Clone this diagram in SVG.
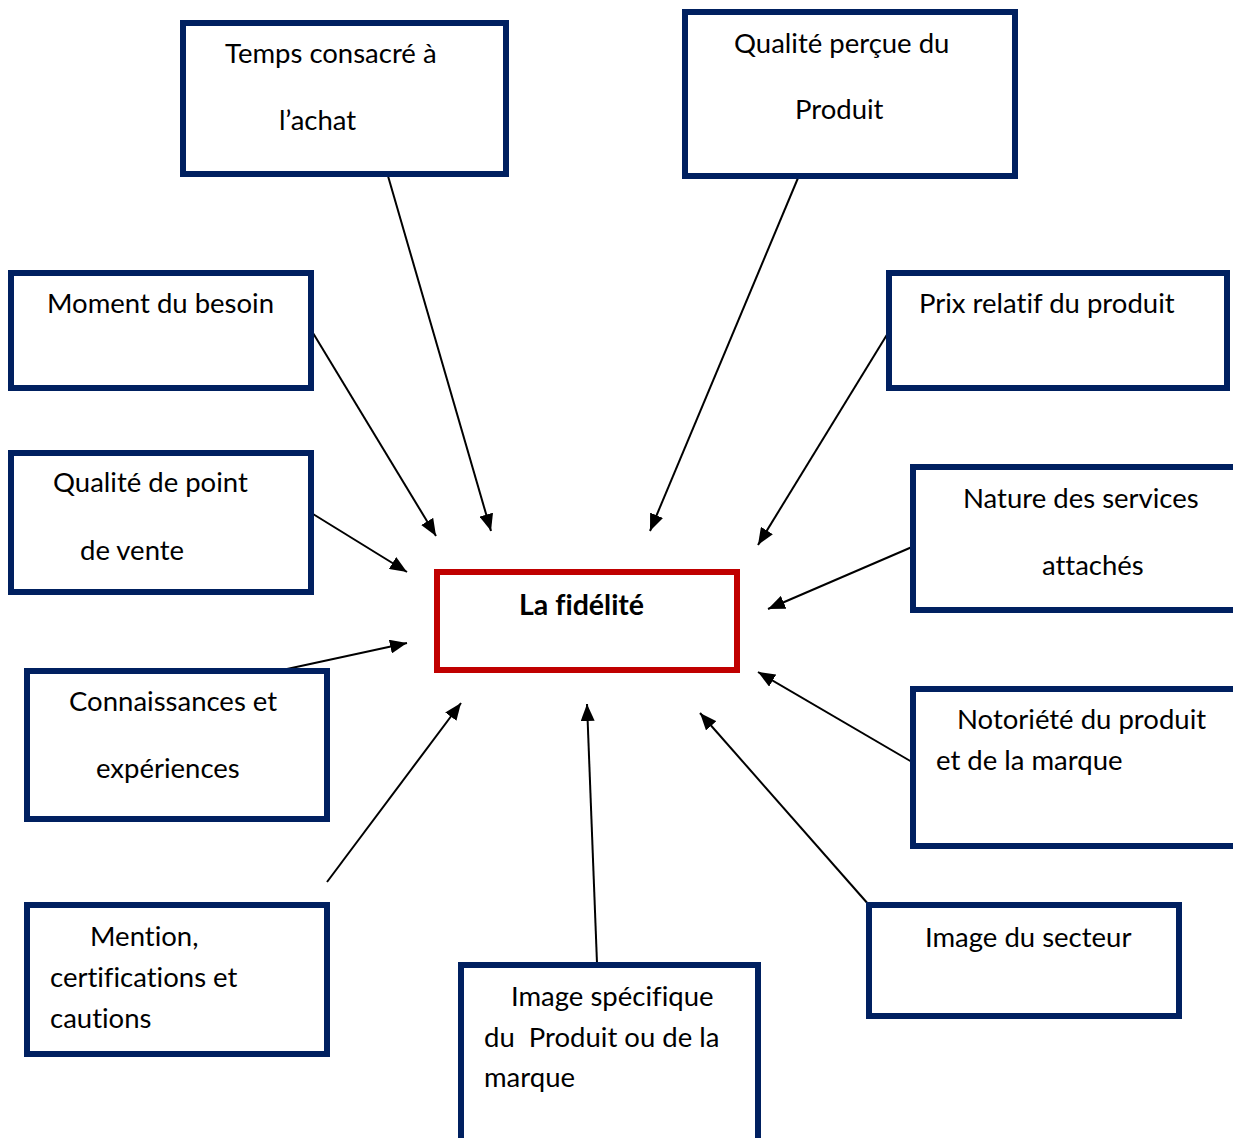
<svg xmlns="http://www.w3.org/2000/svg" width="1233" height="1138" viewBox="0 0 1233 1138">
  <style>
    .box { fill: #ffffff; stroke: #002060; stroke-width: 6; }
    .core { fill: #ffffff; stroke: #c00000; stroke-width: 6; }
    .lbl { font-family: Lato, "Liberation Sans", sans-serif; font-size: 27.5px; fill: #000000; font-variant-ligatures: none; font-feature-settings: "liga" 0; }
    .bold { font-weight: bold; font-size: 28.5px; }
    .link { stroke: #000000; stroke-width: 2; fill: none; marker-end: url(#head); }
  </style>
  <defs>
    <marker id="head" markerUnits="userSpaceOnUse" markerWidth="17" markerHeight="14" refX="17" refY="7" orient="auto">
      <path d="M0,0 L17,7 L0,14 z" fill="#000000"/>
    </marker>
  </defs>
  <rect width="1233" height="1138" fill="#ffffff"/>

  <g id="connectors">
    <line class="link" x1="388" y1="176" x2="491" y2="531"/>
    <line class="link" x1="798" y1="178" x2="650" y2="531"/>
    <line class="link" x1="313" y1="333" x2="436" y2="536"/>
    <line class="link" x1="888" y1="333" x2="758" y2="545"/>
    <line class="link" x1="313" y1="514" x2="407" y2="572"/>
    <line class="link" x1="912" y1="547" x2="768" y2="609"/>
    <line class="link" x1="287" y1="669" x2="407" y2="643"/>
    <line class="link" x1="327" y1="882" x2="461" y2="703"/>
    <line class="link" x1="597" y1="963" x2="587" y2="704"/>
    <line class="link" x1="912" y1="762" x2="758" y2="672"/>
    <line class="link" x1="869" y1="905" x2="700" y2="713"/>
  </g>

  <g id="fidelite">
    <rect class="core" x="437" y="572" width="300" height="98"/>
    <text class="lbl bold" x="519" y="615">La fidélité</text>
  </g>

  <g id="temps-achat">
    <rect class="box" x="183" y="23" width="323" height="151"/>
    <text class="lbl" x="225" y="63">Temps consacré à</text>
    <text class="lbl" x="279" y="130">l’achat</text>
  </g>

  <g id="qualite-percue">
    <rect class="box" x="685" y="12" width="330" height="164"/>
    <text class="lbl" x="734" y="53">Qualité perçue du</text>
    <text class="lbl" x="795" y="119">Produit</text>
  </g>

  <g id="moment-besoin">
    <rect class="box" x="11" y="273" width="300" height="115"/>
    <text class="lbl" x="47" y="313">Moment du besoin</text>
  </g>

  <g id="qualite-point-vente">
    <rect class="box" x="11" y="453" width="300" height="139"/>
    <text class="lbl" x="53" y="492">Qualité de point</text>
    <text class="lbl" x="80" y="560">de vente</text>
  </g>

  <g id="prix-relatif">
    <rect class="box" x="889" y="273" width="338" height="115"/>
    <text class="lbl" x="919" y="313">Prix relatif du produit</text>
  </g>

  <g id="nature-services">
    <rect class="box" x="913" y="467" width="340" height="143"/>
    <text class="lbl" x="963" y="508">Nature des services</text>
    <text class="lbl" x="1042" y="575">attachés</text>
  </g>

  <g id="connaissances">
    <rect class="box" x="27" y="671" width="300" height="148"/>
    <text class="lbl" x="69" y="711">Connaissances et</text>
    <text class="lbl" x="96" y="778">expériences</text>
  </g>

  <g id="mention">
    <rect class="box" x="27" y="905" width="300" height="149"/>
    <text class="lbl" x="90" y="946">Mention,</text>
    <text class="lbl" x="50" y="987">certifications et</text>
    <text class="lbl" x="50" y="1028">cautions</text>
  </g>

  <g id="image-specifique">
    <rect class="box" x="461" y="965" width="297" height="190"/>
    <text class="lbl" x="511" y="1006">Image spécifique</text>
    <text class="lbl" x="484" y="1047" xml:space="preserve">du  Produit ou de la</text>
    <text class="lbl" x="484" y="1087">marque</text>
  </g>

  <g id="notoriete">
    <rect class="box" x="913" y="689" width="340" height="157"/>
    <text class="lbl" x="957" y="729">Notoriété du produit</text>
    <text class="lbl" x="936" y="770">et de la marque</text>
  </g>

  <g id="image-secteur">
    <rect class="box" x="869" y="905" width="310" height="111"/>
    <text class="lbl" x="925" y="947">Image du secteur</text>
  </g>
</svg>
